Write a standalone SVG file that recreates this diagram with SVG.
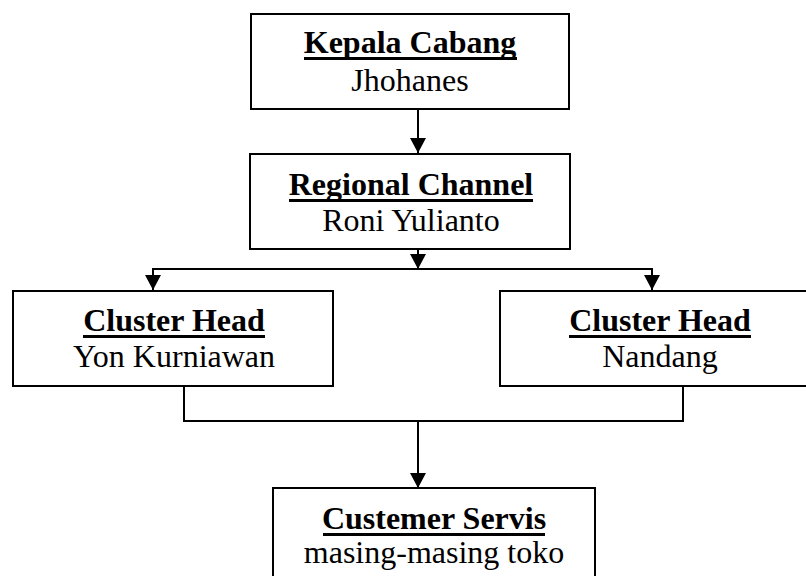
<svg xmlns="http://www.w3.org/2000/svg" width="806" height="576" viewBox="0 0 806 576">
<style>
.box{fill:#fff;stroke:#000;stroke-width:2}
.h{font-family:"Liberation Serif","Times New Roman",serif;font-size:32px;font-weight:bold;text-anchor:middle;fill:#000}
.n{font-family:"Liberation Serif","Times New Roman",serif;font-size:32px;text-anchor:middle;fill:#000}
.ul{fill:#000}
.c{fill:none;stroke:#000;stroke-width:2}
</style>
<defs>
<marker id="arr" markerUnits="userSpaceOnUse" markerWidth="16" markerHeight="16" refX="15" refY="8" orient="auto">
<path d="M0,0 L15,8 L0,16 z" fill="#000"/>
</marker>
</defs>
<rect x="0" y="0" width="806" height="576" fill="#fff"/>
<g id="connectors">
<line class="c" x1="418" y1="109" x2="418" y2="153" marker-end="url(#arr)"/>
<line class="c" x1="418" y1="249" x2="418" y2="269" marker-end="url(#arr)"/>
<polyline class="c" points="153,290 153,269 652,269 652,290"/>
<line class="c" x1="153" y1="269" x2="153" y2="290" marker-end="url(#arr)"/>
<line class="c" x1="652" y1="269" x2="652" y2="290" marker-end="url(#arr)"/>
<polyline class="c" points="184,386 184,421 683,421 683,386"/>
<line class="c" x1="418" y1="421" x2="418" y2="488" marker-end="url(#arr)"/>
</g>
<g id="kepala-cabang">
<rect class="box" x="251" y="14" width="318" height="95"/>
<text class="h" x="410" y="53">Kepala Cabang</text>
<rect class="ul" x="304" y="57" width="213" height="3"/>
<text class="n" x="410" y="91">Jhohanes</text>
</g>
<g id="regional-channel">
<rect class="box" x="250" y="154" width="320" height="95"/>
<text class="h" x="411" y="195">Regional Channel</text>
<rect class="ul" x="289" y="199" width="244" height="3"/>
<text class="n" x="411" y="231">Roni Yulianto</text>
</g>
<g id="cluster-head-1">
<rect class="box" x="13" y="291" width="320" height="95"/>
<text class="h" x="174" y="331">Cluster Head</text>
<rect class="ul" x="83" y="335" width="182" height="3"/>
<text class="n" x="174" y="367">Yon Kurniawan</text>
</g>
<g id="cluster-head-2">
<rect class="box" x="500" y="291" width="320" height="95"/>
<text class="h" x="660" y="331">Cluster Head</text>
<rect class="ul" x="569" y="335" width="182" height="3"/>
<text class="n" x="660" y="367">Nandang</text>
</g>
<g id="custemer-servis">
<rect class="box" x="273" y="488" width="322" height="100"/>
<text class="h" x="434" y="529">Custemer Servis</text>
<rect class="ul" x="323" y="533" width="222" height="3"/>
<text class="n" x="434" y="563">masing-masing toko</text>
</g>
</svg>
